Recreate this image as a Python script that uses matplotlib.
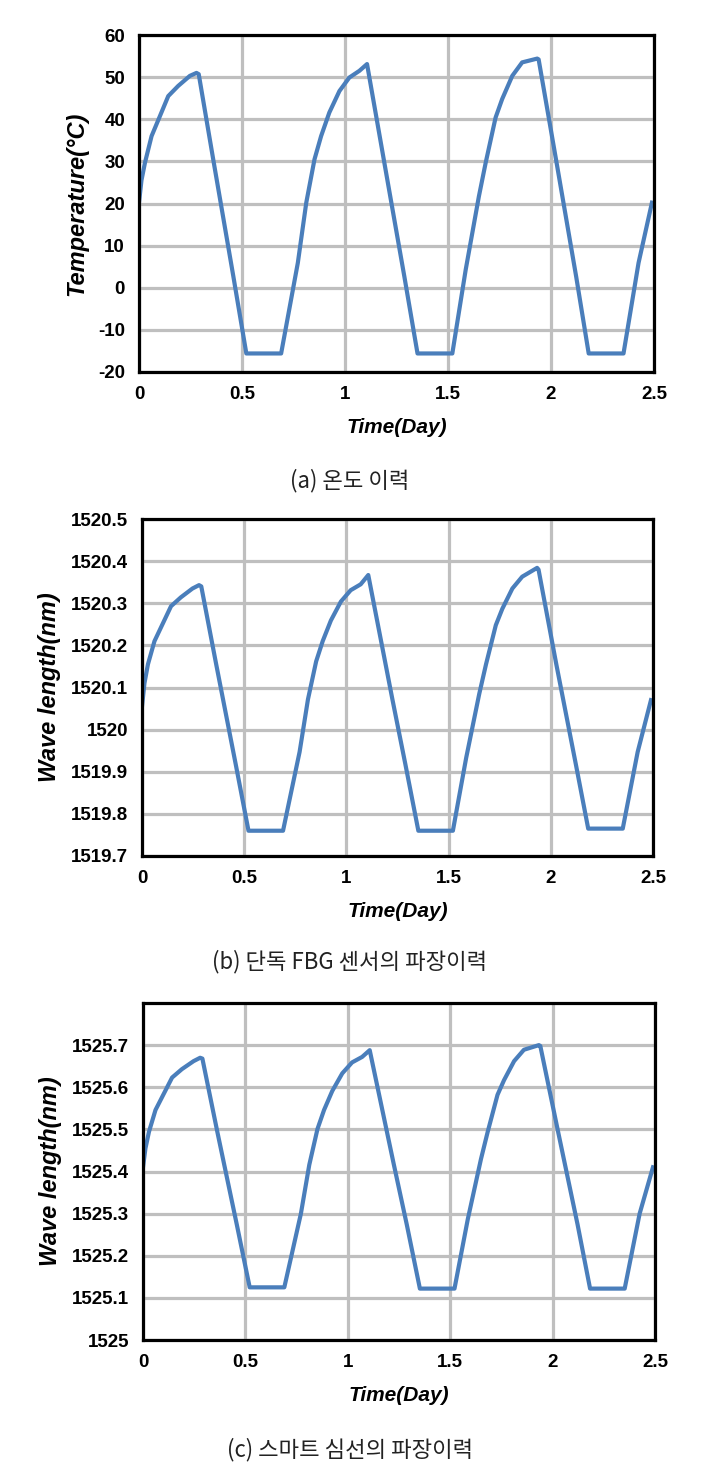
import matplotlib
matplotlib.use("Agg")
import matplotlib.pyplot as plt

# ---------------- data ----------------
time_day = [0, 0.012, 0.029, 0.061, 0.102, 0.142, 0.19, 0.247, 0.279, 0.29, 0.363, 0.458, 0.521,
            0.69, 0.771, 0.812, 0.852, 0.884, 0.924, 0.973, 1.021, 1.07, 1.107, 1.225, 1.288,
            1.352, 1.521, 1.586, 1.65, 1.683, 1.731, 1.763, 1.812, 1.86, 1.933, 1.94, 2.027,
            2.122, 2.183, 2.352, 2.425, 2.49]

temperature = [20.2, 25.5, 29.7, 36, 40.8, 45.5, 47.9, 50.3, 51, 50.7, 29.7, 2.7, -15.6,
               -15.6, 5.9, 20.2, 30.5, 36, 41.6, 46.7, 49.9, 51.5, 53.1, 20.2, 2.7,
               -15.6, -15.6, 4.3, 21.7, 29.7, 40.4, 44.8, 50.3, 53.5, 54.4, 54.2, 29.7,
               2.7, -15.6, -15.6, 5.9, 20.2]

wl_fbg = [1520.055, 1520.11, 1520.155, 1520.21, 1520.252, 1520.293, 1520.314, 1520.335, 1520.343, 1520.34,
          1520.155, 1519.919, 1519.76, 1519.76, 1519.947, 1520.072, 1520.162, 1520.21, 1520.259,
          1520.304, 1520.331, 1520.345, 1520.367, 1520.072, 1519.919, 1519.76, 1519.76, 1519.933,
          1520.085, 1520.155, 1520.248, 1520.287, 1520.335, 1520.363, 1520.384, 1520.38, 1520.155,
          1519.919, 1519.765, 1519.765, 1519.947, 1520.07]

wl_smart = [1525.41, 1525.455, 1525.494, 1525.546, 1525.585, 1525.623, 1525.643, 1525.662, 1525.67, 1525.668,
            1525.494, 1525.274, 1525.125, 1525.125, 1525.30, 1525.416, 1525.501, 1525.546, 1525.591,
            1525.633, 1525.659, 1525.672, 1525.688, 1525.416, 1525.274, 1525.122, 1525.122, 1525.287,
            1525.429, 1525.494, 1525.582, 1525.617, 1525.662, 1525.689, 1525.70, 1525.698, 1525.494,
            1525.274, 1525.122, 1525.122, 1525.30, 1525.41]

x_ticks = [0, 0.5, 1, 1.5, 2, 2.5]
x_tick_labels = ["0", "0.5", "1", "1.5", "2", "2.5"]

yticks_a = [-20, -10, 0, 10, 20, 30, 40, 50, 60]
ylabels_a = ["-20", "-10", "0", "10", "20", "30", "40", "50", "60"]
yticks_b = [1519.7, 1519.8, 1519.9, 1520.0, 1520.1, 1520.2, 1520.3, 1520.4, 1520.5]
ylabels_b = ["1519.7", "1519.8", "1519.9", "1520", "1520.1", "1520.2", "1520.3", "1520.4", "1520.5"]
yticks_c = [1525.0, 1525.1, 1525.2, 1525.3, 1525.4, 1525.5, 1525.6, 1525.7]
ylabels_c = ["1525", "1525.1", "1525.2", "1525.3", "1525.4", "1525.5", "1525.6", "1525.7"]

captions = ["(a) 온도 이력", "(b) 단독 FBG 센서의 파장이력", "(c) 스마트 심선의 파장이력"]
ylabels = ["Temperature(°C)", "Wave length(nm)", "Wave length(nm)"]
xlabel = "Time(Day)"

# ---------------- figure ----------------
W, H = 705, 1465
fig = plt.figure(figsize=(W / 100, H / 100), dpi=100)

LINE_COLOR = "#4a7ebb"
GRID_COLOR = "#bfbfbf"
TICK_FONT = dict(family="Liberation Sans", weight="bold", size=13.5)
LABEL_FONT = dict(family="Liberation Sans", weight="bold", style="italic")


def px_axes(left, right, top, bottom):
    return fig.add_axes([left / W, 1 - bottom / H, (right - left) / W, (bottom - top) / H])


panels = [
    dict(box=(139, 654, 35, 372), y=temperature, ylim=(-20, 60), yt=yticks_a, yl=ylabels_a,
         cap_y=481),
    dict(box=(142, 653, 519, 856), y=wl_fbg, ylim=(1519.7, 1520.5), yt=yticks_b, yl=ylabels_b,
         cap_y=962),
    dict(box=(143, 655, 1003, 1340), y=wl_smart, ylim=(1525.0, 1525.8), yt=yticks_c, yl=ylabels_c,
         cap_y=1450),
]

for i, p in enumerate(panels):
    ax = px_axes(*p["box"])
    ax.plot(time_day, p["y"], color=LINE_COLOR, lw=3.0, solid_joinstyle="round", zorder=3)
    ax.set_xlim(0, 2.5)
    ax.set_ylim(*p["ylim"])
    ax.set_xticks(x_ticks)
    ax.set_xticklabels(x_tick_labels, **TICK_FONT)
    ax.set_yticks(p["yt"])
    ax.set_yticklabels(p["yl"], **TICK_FONT)
    ax.tick_params(axis="both", length=0)
    ax.tick_params(axis="x", pad=10)
    ax.tick_params(axis="y", pad=10)
    ax.grid(True, color=GRID_COLOR, lw=2.3, zorder=1)
    ax.set_axisbelow(True)
    for s in ax.spines.values():
        s.set_linewidth(2.3)
        s.set_color("black")
        s.set_zorder(4)
    ax.set_xlabel(xlabel, fontsize=15, labelpad=11, **LABEL_FONT)
    ax.set_ylabel(ylabels[i], fontsize=17, labelpad=7, **LABEL_FONT)
    fig.text(350 / W, 1 - p["cap_y"] / H, captions[i], ha="center", va="center",
             fontsize=16, family=["Noto Sans CJK KR", "DejaVu Sans"], color="#222222")

fig.savefig("out.png", dpi=100)
